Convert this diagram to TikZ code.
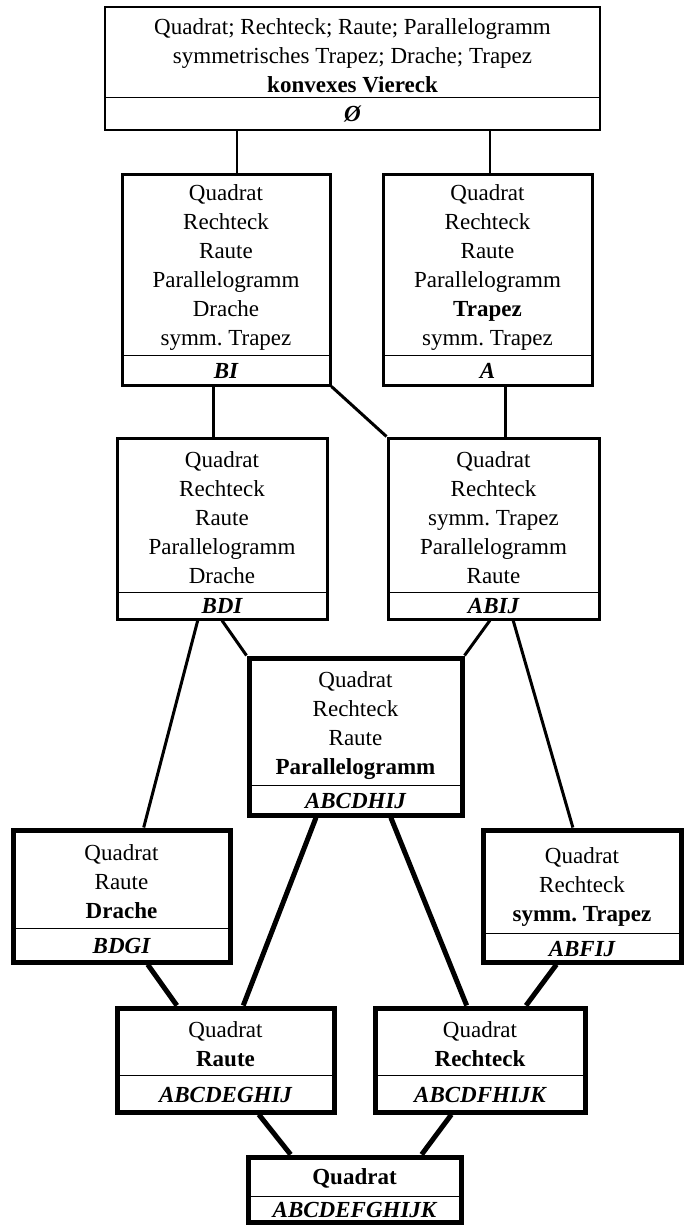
\documentclass[tikz,border=0pt]{standalone}
\usepackage{fontspec}
\setmainfont{Liberation Serif}
\usetikzlibrary{calc}

\begin{document}
\begin{tikzpicture}[
  x=1pt, y=-1pt,
  % --- node styles ---
  box/.style={rectangle, draw, line width=#1, inner sep=0pt},
  txt/.style={align=center, inner sep=0pt, yshift=-3.5pt,
              font=\fontsize{23}{29}\selectfont},
  lbl/.style={rectangle, inner sep=0pt, anchor=south,
              font=\fontsize{23}{26}\selectfont\bfseries\itshape},
  sep/.style={line width=1pt},
  link/.style={line width=#1},
]
  \useasboundingbox (0,0) rectangle (688,1227);

  % --- Level 0: all convex quadrilaterals ---
  \node[box=1.5pt, minimum width=495, minimum height=123] (top) at (352.5,68.5) {};
  \node[lbl, minimum width=495, minimum height=33] (top-l) at (top.south) {Ø};
  \draw[sep] (top-l.north west) -- (top-l.north east);
  \node[txt] (top-t) at ($(top.north)!.5!(top-l.north)$)
    {Quadrat; Rechteck; Raute; Parallelogramm\\
     symmetrisches Trapez; Drache; Trapez\\
     \textbf{konvexes Viereck}};

  % --- Level 1 ---
  \node[box=3pt, minimum width=208, minimum height=211] (bi) at (226,279.5) {};
  \node[lbl, minimum width=208, minimum height=31] (bi-l) at (bi.south) {BI};
  \draw[sep] (bi-l.north west) -- (bi-l.north east);
  \node[txt] (bi-t) at ($(bi.north)!.5!(bi-l.north)$)
    {Quadrat\\Rechteck\\Raute\\Parallelogramm\\Drache\\symm.\ Trapez};

  \node[box=3pt, minimum width=209, minimum height=211] (a) at (487.5,279.5) {};
  \node[lbl, minimum width=209, minimum height=31] (a-l) at (a.south) {A};
  \draw[sep] (a-l.north west) -- (a-l.north east);
  \node[txt] (a-t) at ($(a.north)!.5!(a-l.north)$)
    {Quadrat\\Rechteck\\Raute\\Parallelogramm\\\textbf{Trapez}\\symm.\ Trapez};

  % --- Level 2 ---
  \node[box=3pt, minimum width=210, minimum height=181] (bdi) at (222,528.5) {};
  \node[lbl, minimum width=210, minimum height=28] (bdi-l) at (bdi.south) {BDI};
  \draw[sep] (bdi-l.north west) -- (bdi-l.north east);
  \node[txt] (bdi-t) at ($(bdi.north)!.5!(bdi-l.north)$)
    {Quadrat\\Rechteck\\Raute\\Parallelogramm\\Drache};

  \node[box=3pt, minimum width=211, minimum height=181] (abij) at (493.5,528.5) {};
  \node[lbl, minimum width=211, minimum height=28] (abij-l) at (abij.south) {ABIJ};
  \draw[sep] (abij-l.north west) -- (abij-l.north east);
  \node[txt] (abij-t) at ($(abij.north)!.5!(abij-l.north)$)
    {Quadrat\\Rechteck\\symm.\ Trapez\\Parallelogramm\\Raute};

  % --- Level 3 ---
  \node[box=5pt, minimum width=213, minimum height=157] (abcdhij) at (355.5,736.5) {};
  \node[lbl, minimum width=213, minimum height=32] (abcdhij-l) at (abcdhij.south) {ABCDHIJ};
  \draw[sep] (abcdhij-l.north west) -- (abcdhij-l.north east);
  \node[txt, yshift=-1.5pt] (abcdhij-t) at ($(abcdhij.north)!.5!(abcdhij-l.north)$)
    {Quadrat\\Rechteck\\Raute\\\textbf{Parallelogramm}};

  \node[box=5pt, minimum width=217, minimum height=132] (bdgi) at (121.5,896) {};
  \node[lbl, minimum width=217, minimum height=36] (bdgi-l) at (bdgi.south) {BDGI};
  \draw[sep] (bdgi-l.north west) -- (bdgi-l.north east);
  \node[txt] (bdgi-t) at ($(bdgi.north)!.5!(bdgi-l.north)$)
    {Quadrat\\Raute\\\textbf{Drache}};

  \node[box=5pt, minimum width=198, minimum height=132] (abfij) at (582,896) {};
  \node[lbl, minimum width=198, minimum height=31] (abfij-l) at (abfij.south) {ABFIJ};
  \draw[sep] (abfij-l.north west) -- (abfij-l.north east);
  \node[txt, yshift=-3pt] (abfij-t) at ($(abfij.north)!.5!(abfij-l.north)$)
    {Quadrat\\Rechteck\\\textbf{symm.\ Trapez}};

  % --- Level 4 ---
  \node[box=5pt, minimum width=217, minimum height=104] (raute) at (225.5,1060) {};
  \node[lbl, minimum width=217, minimum height=39] (raute-l) at (raute.south) {ABCDEGHIJ};
  \draw[sep] (raute-l.north west) -- (raute-l.north east);
  \node[txt] (raute-t) at ($(raute.north)!.5!(raute-l.north)$)
    {Quadrat\\\textbf{Raute}};

  \node[box=5pt, minimum width=210, minimum height=104] (rechteck) at (480,1060) {};
  \node[lbl, minimum width=210, minimum height=39] (rechteck-l) at (rechteck.south) {ABCDFHIJK};
  \draw[sep] (rechteck-l.north west) -- (rechteck-l.north east);
  \node[txt] (rechteck-t) at ($(rechteck.north)!.5!(rechteck-l.north)$)
    {Quadrat\\\textbf{Rechteck}};

  % --- Level 5 ---
  \node[box=5pt, minimum width=213, minimum height=65] (quadrat) at (354.5,1189.5) {};
  \node[lbl, minimum width=213, minimum height=28] (quadrat-l) at (quadrat.south) {ABCDEFGHIJK};
  \draw[sep] (quadrat-l.north west) -- (quadrat-l.north east);
  \node[txt] (quadrat-t) at ($(quadrat.north)!.5!(quadrat-l.north)$)
    {\textbf{Quadrat}};

  % --- Connectors ---
  \coordinate (bi-n)   at ($(bi.north west)!.553!(bi.north east)$);
  \coordinate (a-n)    at ($(a.north west)!.512!(a.north east)$);
  \coordinate (bdi-n)  at ($(bdi.north west)!.462!(bdi.north east)$);
  \coordinate (abij-n) at ($(abij.north west)!.555!(abij.north east)$);
  \draw[link=1.5pt] (bi-n) -- (bi-n |- top.south);
  \draw[link=1.5pt] (a-n) -- (a-n |- top.south);
  \draw[link=3pt] (bdi-n) -- (bdi-n |- bi.south);
  \draw[link=3pt] (abij-n) -- (abij-n |- a.south);
  \draw[link=3pt] (bi.south east) -- (abij.north west);

  \draw[link=3pt] (bdi.south) -- (abcdhij.north west);
  \draw[link=3pt] ($(abij.south west)!.483!(abij.south east)$) -- (abcdhij.north east);
  \draw[link=3pt] ($(bdi.south west)!.386!(bdi.south east)$)
    -- ($(bdgi.north west)!.6!(bdgi.north east)$);
  \draw[link=3pt] ($(abij.south west)!.592!(abij.south east)$)
    -- ($(abfij.north west)!.455!(abfij.north east)$);

  \draw[link=5pt] ($(abcdhij.south west)!.319!(abcdhij.south east)$)
    -- ($(raute.north west)!.58!(raute.north east)$);
  \draw[link=5pt] ($(abcdhij.south west)!.662!(abcdhij.south east)$)
    -- ($(rechteck.north west)!.438!(rechteck.north east)$);
  \draw[link=5pt] ($(bdgi.south west)!.618!(bdgi.south east)$)
    -- ($(raute.north west)!.281!(raute.north east)$);
  \draw[link=5pt] ($(abfij.south west)!.374!(abfij.south east)$)
    -- ($(rechteck.north west)!.714!(rechteck.north east)$);

  \draw[link=5pt] ($(raute.south west)!.65!(raute.south east)$)
    -- ($(quadrat.north west)!.207!(quadrat.north east)$);
  \draw[link=5pt] ($(rechteck.south west)!.367!(rechteck.south east)$)
    -- ($(quadrat.north west)!.808!(quadrat.north east)$);
\end{tikzpicture}
\end{document}
